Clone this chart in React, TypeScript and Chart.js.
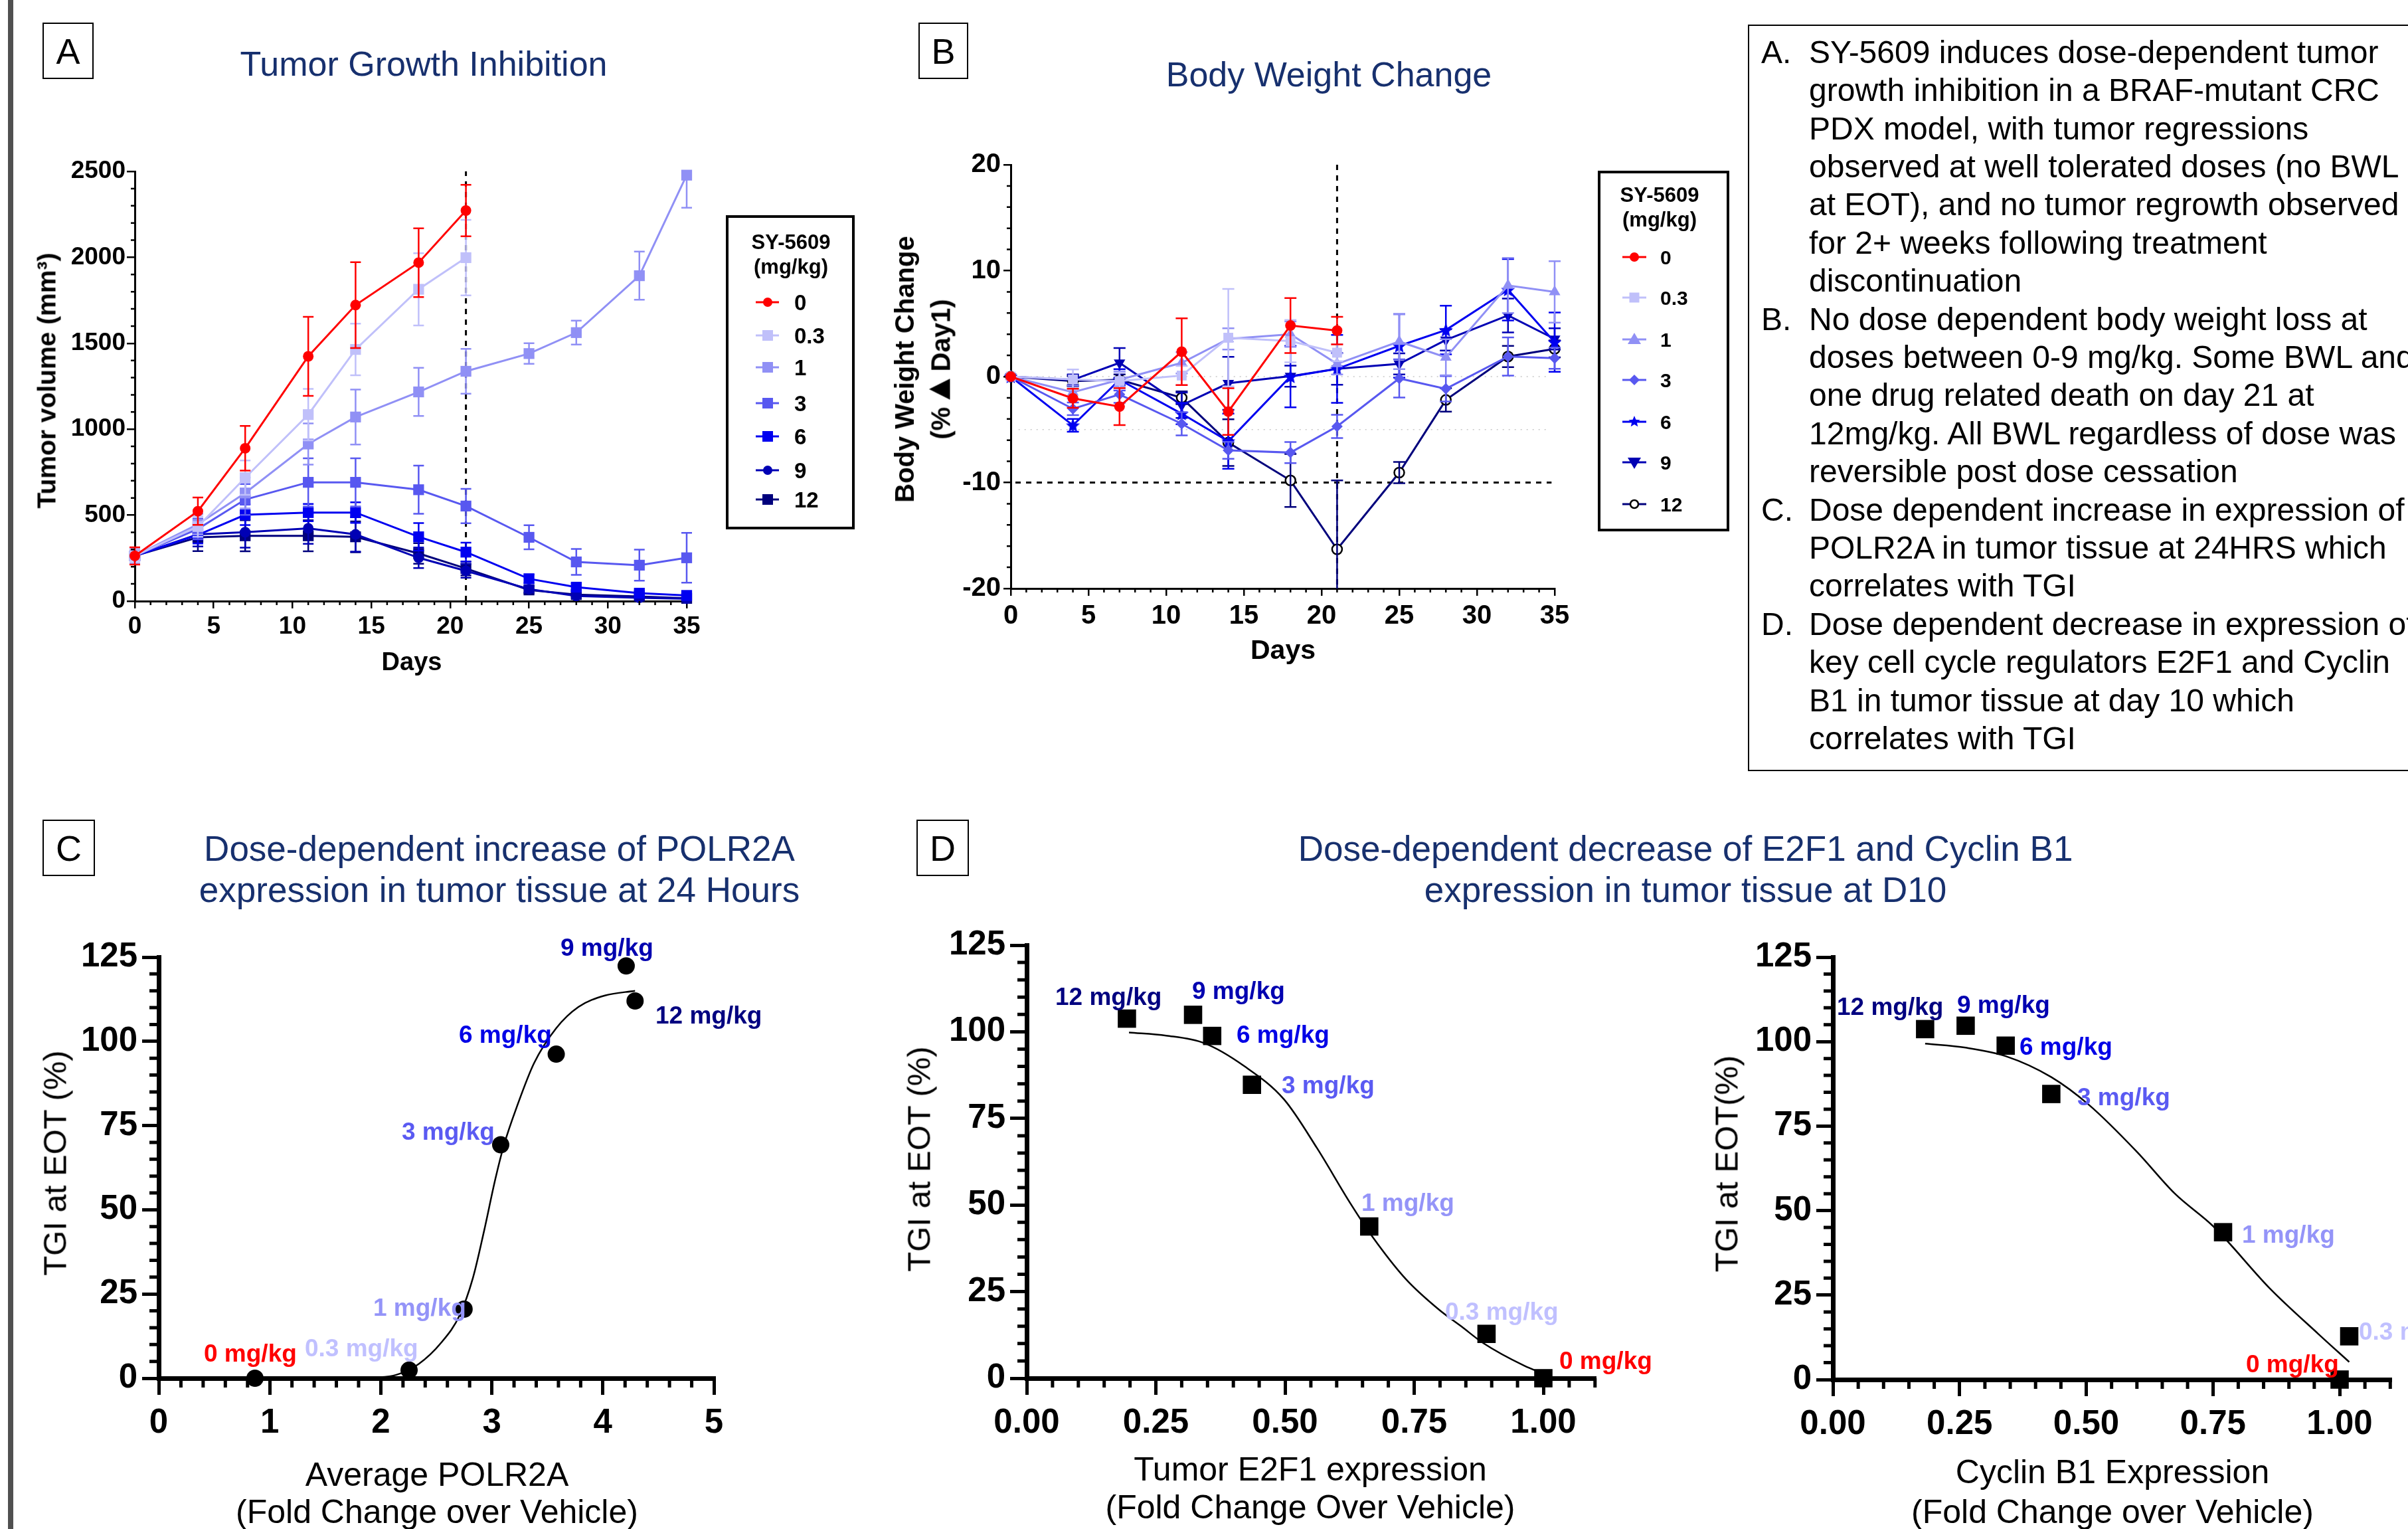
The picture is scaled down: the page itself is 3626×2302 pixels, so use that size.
import React, { useEffect, useRef } from 'react';
import { Chart, registerables } from 'chart.js';

Chart.register(...registerables);

const FONT = '"Liberation Sans", Arial, Helvetica, sans-serif';
const TITLE_COLOR = '#17306e';
Chart.defaults.font.family = FONT;

// ---------------- shared dose groups ----------------
const doseNames = ['0', '0.3', '1', '3', '6', '9', '12'];
const doseColors = ['#ff0000', '#c0c0fa', '#9090f5', '#5858f0', '#0000f0', '#0000b4', '#00007c'];
const labelColors = ['#ff0000', '#c0c0ff', '#9494f8', '#5a5af2', '#0000e6', '#0000b0', '#000080'];

// ---------------- Panel A: tumor volume (mm3) ----------------
const daysA = [0, 4, 7, 11, 14, 18, 21, 25, 28, 32, 35];
const tumor0 = [263, 523, 889, 1424, 1722, 1969, 2272];
const tumor0Err = [50, 80, 130, 230, 250, 200, 150];
const tumor03 = [263, 434, 718, 1085, 1464, 1814, 1998];
const tumor03Err = [40, 60, 100, 150, 150, 210, 220];
const tumor1 = [263, 447, 629, 914, 1071, 1217, 1337, 1440, 1562, 1893, 2478];
const tumor1Err = [40, 60, 90, 120, 160, 140, 130, 60, 70, 140, 190];
const tumor3 = [263, 420, 591, 691, 691, 648, 553, 371, 228, 209, 252];
const tumor3Err = [40, 60, 90, 140, 140, 140, 100, 70, 75, 90, 145];
const tumor6 = [263, 385, 502, 515, 515, 374, 285, 130, 81, 46, 33];
const tumor6Err = [40, 50, 60, 50, 60, 80, 55, 25, 20, 15, 10];
const tumor9 = [263, 388, 401, 423, 388, 252, 176, 70, 30, 19, 14];
const tumor9Err = [40, 70, 90, 90, 100, 60, 40, 20, 10, 8, 5];
const tumor12 = [263, 371, 380, 380, 374, 277, 190, 65, 38, 27, 16];
const tumor12Err = [40, 80, 90, 90, 90, 60, 40, 20, 10, 8, 5];
const ticksDays = [0, 5, 10, 15, 20, 25, 30, 35];
const ticksTumor = [0, 500, 1000, 1500, 2000, 2500];

// ---------------- Panel B: body weight change (%) ----------------
const daysB = [0, 4, 7, 11, 14, 18, 21, 25, 28, 32, 35];
const bw0 = [0, -2.05, -2.83, 2.35, -3.3, 4.82, 4.34];
const bw0Err = [0, 0.9, 1.75, 3.15, 2.2, 2.6, 1.3];
const bw03 = [0, -0.27, -0.42, 0.1, 3.67, 3.35, 2.26];
const bw03Err = [0, 0.95, 0.8, 0.9, 4.6, 2.0, 0.8];
const bw1 = [0, -1.47, -0.3, 1.3, 3.56, 4.0, 1.2, 3.31, 1.82, 8.6, 8.0];
const bw1Err = [0, 0.6, 0.8, 1.0, 1.0, 1.2, 1.0, 2.6, 1.7, 2.6, 2.9];
const bw3 = [0, -3.04, -1.68, -4.45, -6.96, -7.17, -4.7, -0.17, -1.15, 1.9, 1.74];
const bw3Err = [0, 0.6, 0.8, 1.1, 0.8, 1.0, 1.1, 1.8, 1.2, 1.8, 1.0];
const bw6 = [0, -4.6, -0.3, -3.5, -6.1, 0, 0.73, 2.9, 4.4, 8.2, 3.25];
const bw6Err = [0, 0.6, 1.0, 1.0, 2.6, 2.9, 3.2, 3.0, 2.3, 2.9, 2.8];
const bw9 = [0, -0.3, 1.3, -2.7, -0.63, 0.04, 0.73, 1.2, 3.46, 5.77, 3.56];
const bw9Err = [0, 0.5, 1.4, 1.2, 2.5, 1.0, 1.5, 1.0, 1.0, 1.6, 1.0];
const bw12 = [0, -0.42, -0.3, -2.0, -6.23, -9.8, -16.3, -9.06, -2.2, 1.9, 2.62];
const bw12Err = [0, 0.5, 0.5, 0.6, 2.2, 2.5, 6.5, 1.0, 1.1, 1.0, 0.8];
const ticksBW = [-20, -10, 0, 10, 20];

// ---------------- Panel C: POLR2A vs TGI ----------------
const polr2aX = [0.867, 2.255, 2.75, 3.08, 3.58, 4.21, 4.29];
const polr2aTGI = [0, 2.4, 20.5, 69.3, 96.2, 122.4, 112.0];
const polr2aFitX = [0.87, 1.5, 1.99, 2.14, 2.34, 2.54, 2.71, 2.83, 2.93, 3.03, 3.11, 3.23, 3.38, 3.58, 3.78, 4.02, 4.29];
const polr2aFitY = [0, 0, 0.3, 1, 4.2, 10.4, 18.7, 29.8, 43.7, 58.9, 69.3, 81, 93.5, 103.9, 110.2, 113.6, 115];
const ticksPolr = [0, 1, 2, 3, 4, 5];
const ticksTGI = [0, 25, 50, 75, 100, 125];

// ---------------- Panel D: E2F1 / Cyclin B1 vs TGI ----------------
const e2f1X = [1.0, 0.89, 0.663, 0.436, 0.359, 0.322, 0.194];
const e2f1TGI = [0, 12.8, 43.8, 84.7, 98.8, 104.9, 103.8];
const e2f1FitX = [0.198, 0.27, 0.344, 0.421, 0.498, 0.562, 0.626, 0.669, 0.734, 0.798, 0.841, 0.884, 0.963, 1.0];
const e2f1FitY = [99.8, 98.9, 96.7, 90.1, 80.5, 66.4, 50.6, 40.9, 28.6, 19.8, 15.0, 10.1, 3.6, 1.3];
const ccnb1X = [1.0, 1.019, 0.77, 0.431, 0.341, 0.262, 0.182];
const ccnb1TGI = [0, 12.8, 43.6, 84.5, 98.8, 104.7, 103.7];
const ccnb1FitX = [0.182, 0.262, 0.341, 0.431, 0.506, 0.6, 0.675, 0.751, 0.864, 0.958, 1.019];
const ccnb1FitY = [99.4, 98.2, 95.7, 89.5, 81.2, 67.4, 55, 45.3, 26.7, 13.5, 5.2];
const ticksFold = [0, 0.25, 0.5, 0.75, 1.0];

// ---------------- text panel ----------------
const noteLines = [
  ['A.', 'SY-5609 induces dose-dependent tumor'],
  ['', 'growth inhibition in a BRAF-mutant CRC'],
  ['', 'PDX model, with tumor regressions'],
  ['', 'observed at well tolerated doses (no BWL'],
  ['', 'at EOT), and no tumor regrowth observed'],
  ['', 'for 2+ weeks following treatment'],
  ['', 'discontinuation'],
  ['B.', 'No dose dependent body weight loss at'],
  ['', 'doses between 0-9 mg/kg. Some BWL and'],
  ['', 'one drug related death on day 21 at'],
  ['', '12mg/kg. All BWL regardless of dose was'],
  ['', 'reversible post dose cessation'],
  ['C.', 'Dose dependent increase in expression of'],
  ['', 'POLR2A in tumor tissue at 24HRS which'],
  ['', 'correlates with TGI'],
  ['D.', 'Dose dependent decrease in expression of'],
  ['', 'key cell cycle regulators E2F1 and Cyclin'],
  ['', 'B1 in tumor tissue at day 10 which'],
  ['', 'correlates with TGI'],
];

// ================= helpers =================
function drawMarker(ctx: any, kind: string, x: number, y: number, r: number, fill: string, stroke?: any, lw?: number) {
  ctx.save();
  ctx.beginPath();
  if (kind === 'circle' || kind === 'open') ctx.arc(x, y, r, 0, Math.PI * 2);
  else if (kind === 'rect') ctx.rect(x - r, y - r, 2 * r, 2 * r);
  else if (kind === 'triangle') {
    ctx.moveTo(x, y - r); ctx.lineTo(x + r, y + r * 0.7); ctx.lineTo(x - r, y + r * 0.7); ctx.closePath();
  } else if (kind === 'triDown') {
    ctx.moveTo(x, y + r); ctx.lineTo(x + r, y - r * 0.7); ctx.lineTo(x - r, y - r * 0.7); ctx.closePath();
  } else if (kind === 'diamond') {
    ctx.moveTo(x, y - r); ctx.lineTo(x + r, y); ctx.lineTo(x, y + r); ctx.lineTo(x - r, y); ctx.closePath();
  } else if (kind === 'star') {
    for (let k = 0; k < 10; k++) {
      const a = -Math.PI / 2 + (k * Math.PI) / 5;
      const rr = k % 2 === 0 ? r : r * 0.45;
      const px = x + rr * Math.cos(a);
      const py = y + rr * Math.sin(a);
      if (k === 0) ctx.moveTo(px, py); else ctx.lineTo(px, py);
    }
    ctx.closePath();
  }
  ctx.fillStyle = fill;
  ctx.fill();
  if (stroke) { ctx.lineWidth = lw || 2; ctx.strokeStyle = stroke; ctx.stroke(); }
  ctx.restore();
}

function makeStarImage(color: string, size: number) {
  const c = document.createElement('canvas');
  c.width = size; c.height = size;
  const ctx = c.getContext('2d');
  drawMarker(ctx, 'star', size / 2, size / 2 + 1, size / 2 - 1, color);
  return c;
}

function minorList(min: number, max: number, step: number, majors: number[]) {
  const out: number[] = [];
  const n = Math.round((max - min) / step);
  for (let i = 0; i <= n; i++) {
    const v = min + i * step;
    if (!majors.some((m) => Math.abs(m - v) < step / 10)) out.push(v);
  }
  return out;
}

function axisCfg(c: any, kind: string, size: number) {
  return {
    type: 'linear',
    position: kind === 'x' ? 'bottom' : 'left',
    min: c.min, max: c.max, bounds: 'data',
    afterBuildTicks: (axis: any) => { axis.ticks = c.ticks.map((v: number) => ({ value: v })); },
    afterFit: (axis: any) => {
      if (kind === 'x') axis.height = size; else axis.width = size;
      axis.paddingLeft = 0; axis.paddingRight = 0; axis.paddingTop = 0; axis.paddingBottom = 0;
    },
    border: { display: true, color: '#000', width: c.bw },
    grid: { display: true, drawOnChartArea: false, drawTicks: true, tickLength: c.tl, tickWidth: c.tw, tickColor: '#000', color: '#000', lineWidth: c.tw },
    ticks: {
      autoSkip: false, maxRotation: 0, minRotation: 0, padding: c.pad, color: '#000',
      font: { family: FONT, size: c.fs, weight: 'bold' },
      callback: c.fmt || ((v: number) => String(v)),
    },
  };
}

function baseOptions(rect: any, area: any, wy: number, hx: number, xc: any, yc: any) {
  return {
    animation: false, responsive: false, maintainAspectRatio: false, events: [],
    layout: {
      autoPadding: false,
      padding: {
        left: area.left - rect.left - wy,
        top: area.top - rect.top,
        right: rect.left + rect.width - area.right,
        bottom: rect.top + rect.height - area.bottom - hx,
      },
    },
    plugins: { legend: { display: false }, tooltip: { enabled: false }, title: { display: false } },
    scales: { x: axisCfg(xc, 'x', hx), y: axisCfg(yc, 'y', wy) },
  };
}

function errorBarPlugin(cap: number, lw: number) {
  return {
    id: 'errbars',
    afterDatasetDraw(chart: any, args: any) {
      const ds = chart.data.datasets[args.index];
      if (!ds.errors) return;
      const ctx = chart.ctx; const xs = chart.scales.x; const ys = chart.scales.y; const ca = chart.chartArea;
      ctx.save();
      ctx.beginPath();
      ctx.rect(ca.left - 60, ca.top - 1, ca.right - ca.left + 120, ca.bottom - ca.top + 2);
      ctx.clip();
      ctx.strokeStyle = ds.borderColor; ctx.lineWidth = lw;
      ds.data.forEach((p: any, j: number) => {
        const e = ds.errors[j];
        if (!e) return;
        const px = xs.getPixelForValue(p.x);
        const y1 = ys.getPixelForValue(p.y + e);
        const y2 = ys.getPixelForValue(p.y - e);
        ctx.beginPath();
        ctx.moveTo(px, y1); ctx.lineTo(px, y2);
        ctx.moveTo(px - cap, y1); ctx.lineTo(px + cap, y1);
        ctx.moveTo(px - cap, y2); ctx.lineTo(px + cap, y2);
        ctx.stroke();
      });
      ctx.restore();
    },
  };
}

function minorTicksPlugin(xs: number[], ys: number[], len: number, width: number) {
  return {
    id: 'minorTicks',
    afterDraw(chart: any) {
      const ctx = chart.ctx; const ca = chart.chartArea;
      ctx.save(); ctx.strokeStyle = '#000'; ctx.lineWidth = width; ctx.beginPath();
      xs.forEach((v) => { const px = chart.scales.x.getPixelForValue(v); ctx.moveTo(px, ca.bottom); ctx.lineTo(px, ca.bottom + len); });
      ys.forEach((v) => { const py = chart.scales.y.getPixelForValue(v); ctx.moveTo(ca.left, py); ctx.lineTo(ca.left - len, py); });
      ctx.stroke(); ctx.restore();
    },
  };
}

function refLinesPlugin(lines: any[]) {
  return {
    id: 'refLines',
    beforeDatasetsDraw(chart: any) {
      const ctx = chart.ctx; const xs = chart.scales.x; const ys = chart.scales.y;
      lines.forEach((l) => {
        ctx.save(); ctx.strokeStyle = l.color; ctx.lineWidth = l.width; ctx.setLineDash(l.dash);
        ctx.beginPath();
        ctx.moveTo(xs.getPixelForValue(l.x1), ys.getPixelForValue(l.y1));
        ctx.lineTo(xs.getPixelForValue(l.x2), ys.getPixelForValue(l.y2));
        ctx.stroke(); ctx.restore();
      });
    },
  };
}

function legendPlugin(rect: any, spec: any) {
  return {
    id: 'doseLegend',
    afterDraw(chart: any) {
      const ctx = chart.ctx;
      ctx.save();
      ctx.translate(-rect.left, -rect.top);
      const b = spec.box;
      ctx.lineWidth = 4; ctx.strokeStyle = '#000';
      ctx.strokeRect(b[0], b[1], b[2] - b[0], b[3] - b[1]);
      ctx.fillStyle = '#000'; ctx.font = spec.titleFont; ctx.textAlign = 'center'; ctx.textBaseline = 'alphabetic';
      ctx.fillText('SY-5609', spec.titleX, spec.titleY[0]);
      ctx.fillText('(mg/kg)', spec.titleX, spec.titleY[1]);
      ctx.textAlign = 'left'; ctx.font = spec.labelFont;
      spec.entryY.forEach((y: number, i: number) => {
        ctx.strokeStyle = doseColors[i]; ctx.lineWidth = 3;
        ctx.beginPath(); ctx.moveTo(spec.lineX[0], y); ctx.lineTo(spec.lineX[1], y); ctx.stroke();
        const open = spec.kinds[i] === 'open';
        drawMarker(ctx, spec.kinds[i], spec.markerX, y, spec.radii[i], open ? '#ffffff' : doseColors[i], open ? '#000' : null, 2.5);
        ctx.fillStyle = '#000';
        ctx.fillText(doseNames[i], spec.labelX, y + spec.labelDy);
      });
      ctx.restore();
    },
  };
}

function doseLabelPlugin(rect: any, positions: number[][]) {
  return {
    id: 'doseLabels',
    afterDraw(chart: any) {
      const ctx = chart.ctx;
      ctx.save();
      ctx.font = `bold 37px ${FONT}`; ctx.textBaseline = 'alphabetic'; ctx.textAlign = 'left';
      positions.forEach((p, i) => {
        ctx.fillStyle = labelColors[i];
        ctx.fillText(`${doseNames[i]} mg/kg`, p[0] - rect.left, p[1] - rect.top);
      });
      ctx.restore();
    },
  };
}

// ================= chart configs =================
const rectA = { left: 0, top: 220, width: 1320, height: 880 };
const areaA = { left: 203, top: 258, right: 1034, bottom: 905 };
const rectB = { left: 1300, top: 200, width: 1340, height: 900 };
const areaB = { left: 1522, top: 248, right: 2341, bottom: 886 };
const rectC = { left: 0, top: 1380, width: 1300, height: 900 };
const areaC = { left: 239, top: 1441, right: 1075, bottom: 2075 };
const rectD1 = { left: 1320, top: 1380, width: 1180, height: 900 };
const areaD1 = { left: 1546, top: 1423, right: 2401.8, bottom: 2075 };
const rectD2 = { left: 2500, top: 1380, width: 1126, height: 900 };
const areaD2 = { left: 2760, top: 1441, right: 3599.3, bottom: 2077 };

function configA() {
  const series = [tumor0, tumor03, tumor1, tumor3, tumor6, tumor9, tumor12];
  const errs = [tumor0Err, tumor03Err, tumor1Err, tumor3Err, tumor6Err, tumor9Err, tumor12Err];
  const kinds = ['circle', 'rect', 'rect', 'rect', 'rect', 'circle', 'rect'];
  const axX = { min: 0, max: 35, ticks: ticksDays, bw: 3, tl: 11, tw: 2.5, pad: 6, fs: 37 };
  const axY = { min: 0, max: 2500, ticks: ticksTumor, bw: 3, tl: 12, tw: 2.5, pad: 2, fs: 37 };
  return {
    type: 'scatter',
    data: {
      datasets: series.map((s, i) => ({
        data: s.map((v, j) => ({ x: daysA[j], y: v })),
        errors: errs[i], showLine: true, borderColor: doseColors[i], backgroundColor: doseColors[i], borderWidth: 3,
        pointStyle: kinds[i], pointRadius: kinds[i] === 'circle' ? 8 : 11.5,
        pointBackgroundColor: doseColors[i], pointBorderColor: doseColors[i], pointBorderWidth: 0, clip: false,
      })),
    },
    options: baseOptions(rectA, areaA, 140, 80, axX, axY),
    plugins: [
      refLinesPlugin([{ x1: 21, y1: 0, x2: 21, y2: 2500, color: '#000', width: 3, dash: [8, 8] }]),
      errorBarPlugin(8, 2.5),
      minorTicksPlugin(minorList(0, 35, 1, ticksDays), minorList(0, 2500, 100, ticksTumor), 6, 2.5),
      legendPlugin(rectA, {
        box: [1095, 326, 1285, 795], titleX: 1191, titleY: [375, 412],
        titleFont: `bold 31px ${FONT}`, labelFont: `bold 33px ${FONT}`,
        entryY: [455, 505, 553, 607, 657, 708, 752], lineX: [1138, 1173], markerX: 1156, labelX: 1196, labelDy: 12,
        kinds: ['circle', 'rect', 'rect', 'rect', 'rect', 'circle', 'rect'], radii: [7, 8, 8, 8, 8, 7, 8],
      }),
    ],
  };
}

function configB() {
  const series = [bw0, bw03, bw1, bw3, bw6, bw9, bw12];
  const errs = [bw0Err, bw03Err, bw1Err, bw3Err, bw6Err, bw9Err, bw12Err];
  const star = makeStarImage(doseColors[4], 24);
  const styles: any[] = ['circle', 'rect', 'triangle', 'rectRot', star, 'triangle', 'circle'];
  const radii = [8, 10.5, 10, 8.5, 12, 10, 7.5];
  const axX = { min: 0, max: 35, ticks: ticksDays, bw: 3, tl: 11, tw: 2.5, pad: 7, fs: 40 };
  const axY = { min: -20, max: 20, ticks: ticksBW, bw: 3, tl: 11, tw: 2.5, pad: 4, fs: 40 };
  return {
    type: 'scatter',
    data: {
      datasets: series.map((s, i) => ({
        data: s.map((v, j) => ({ x: daysB[j], y: v })),
        errors: errs[i], showLine: true, borderColor: doseColors[i], backgroundColor: doseColors[i], borderWidth: 3,
        pointStyle: styles[i], pointRadius: radii[i], pointRotation: i === 5 ? 180 : 0,
        pointBackgroundColor: i === 6 ? '#ffffff' : doseColors[i],
        pointBorderColor: i === 6 ? '#000000' : doseColors[i],
        pointBorderWidth: i === 6 ? 2.5 : 0, clip: false,
      })),
    },
    options: baseOptions(rectB, areaB, 140, 80, axX, axY),
    plugins: [
      refLinesPlugin([
        { x1: 0.5, y1: 0, x2: 34.7, y2: 0, color: '#c8c8c8', width: 1.5, dash: [2, 7] },
        { x1: 0.5, y1: -5, x2: 34.7, y2: -5, color: '#c8c8c8', width: 1.5, dash: [2, 7] },
        { x1: 0.3, y1: -10, x2: 34.8, y2: -10, color: '#000', width: 3, dash: [8, 8] },
        { x1: 21, y1: 20, x2: 21, y2: -20, color: '#000', width: 3, dash: [8, 8] },
      ]),
      errorBarPlugin(9, 2.5),
      minorTicksPlugin(minorList(0, 35, 1, ticksDays), minorList(-20, 20, 2, ticksBW), 6, 2.5),
      legendPlugin(rectB, {
        box: [2408, 259, 2602, 798], titleX: 2499, titleY: [304, 341],
        titleFont: `bold 31px ${FONT}`, labelFont: `bold 30px ${FONT}`,
        entryY: [387, 448, 511, 572, 635, 696, 759], lineX: [2443, 2479], markerX: 2461, labelX: 2500, labelDy: 11,
        kinds: ['circle', 'rect', 'triangle', 'diamond', 'star', 'triDown', 'open'], radii: [7, 7.5, 10, 8, 9, 10, 6],
      }),
    ],
  };
}

function configFit(rect: any, area: any, xs: number[], ys: number[], fx: number[], fy: number[], kind: string, cfgX: any, labels: number[][], minorX: number[]) {
  const axY = { min: 0, max: 125, ticks: ticksTGI, bw: 7, tl: 25, tw: 5, pad: 7, fs: 51 };
  return {
    type: 'scatter',
    data: {
      datasets: [
        {
          data: xs.map((x, i) => ({ x, y: ys[i] })), showLine: false,
          pointStyle: kind, pointRadius: kind === 'circle' ? 13 : 19.5,
          pointBackgroundColor: '#000', pointBorderColor: '#000', pointBorderWidth: 0, clip: false,
        },
        {
          data: fx.map((x, i) => ({ x, y: fy[i] })), showLine: true, pointRadius: 0,
          borderColor: '#000', borderWidth: 2.5, cubicInterpolationMode: 'monotone', clip: false,
        },
      ],
    },
    options: baseOptions(rect, area, 150, 90, cfgX, axY),
    plugins: [minorTicksPlugin(minorX, minorList(0, 125, 5, ticksTGI), 14, 5), doseLabelPlugin(rect, labels)],
  };
}

function configC() {
  const axX = { min: 0, max: 5, ticks: ticksPolr, bw: 7, tl: 25, tw: 5, pad: 12, fs: 51 };
  return configFit(rectC, areaC, polr2aX, polr2aTGI, polr2aFitX, polr2aFitY, 'circle', axX,
    [[307, 2050], [459, 2042], [562, 1981], [605, 1716], [691, 1570], [844, 1439], [987, 1541]],
    minorList(0, 5, 0.2, ticksPolr));
}

function configD1() {
  const axX = { min: 0, max: 1.1, ticks: ticksFold, bw: 7, tl: 25, tw: 5, pad: 12, fs: 51, fmt: (v: number) => v.toFixed(2) };
  return configFit(rectD1, areaD1, e2f1X, e2f1TGI, e2f1FitX, e2f1FitY, 'rect', axX,
    [[2348, 2061], [2176, 1987], [2050, 1823], [1930, 1646], [1862, 1570], [1795, 1504], [1589, 1513]],
    minorList(0, 1.1, 0.05, ticksFold));
}

function configD2() {
  const axX = { min: 0, max: 1.1, ticks: ticksFold, bw: 7, tl: 25, tw: 5, pad: 12, fs: 51, fmt: (v: number) => v.toFixed(2) };
  return configFit(rectD2, areaD2, ccnb1X, ccnb1TGI, ccnb1FitX, ccnb1FitY, 'rect', axX,
    [[3382, 2066], [3552, 2017], [3376, 1871], [3128, 1664], [3041, 1588], [2947, 1525], [2766, 1528]],
    minorList(0, 1.1, 0.05, ticksFold));
}

// ================= components =================
function ChartCanvas({ rect, make }: any) {
  const ref = useRef<HTMLCanvasElement | null>(null);
  useEffect(() => {
    const chart = new Chart(ref.current as any, make() as any);
    return () => chart.destroy();
  }, []);
  return (
    <canvas
      ref={ref}
      width={rect.width}
      height={rect.height}
      style={{ position: 'absolute', left: rect.left, top: rect.top, width: rect.width, height: rect.height }}
    />
  );
}

function Txt({ x, y, size, weight = 'normal', color = '#000', align = 'left', children }: any) {
  const style: any = {
    position: 'absolute', left: x, top: y - 0.8465 * size, fontSize: size, lineHeight: `${size}px`,
    fontWeight: weight, color, whiteSpace: 'nowrap', fontFamily: FONT,
  };
  if (align === 'center') style.transform = 'translateX(-50%)';
  if (align === 'right') style.transform = 'translateX(-100%)';
  return <div style={style}>{children}</div>;
}

function VTxt({ cx, cy, size, weight = 'normal', children }: any) {
  return (
    <div
      style={{
        position: 'absolute', left: cx, top: cy, fontSize: size, lineHeight: `${size}px`, fontWeight: weight,
        whiteSpace: 'nowrap', fontFamily: FONT, color: '#000', transform: 'translate(-50%, -50%) rotate(-90deg)',
      }}
    >
      {children}
    </div>
  );
}

function LetterBox({ left, top, w, h, letter }: any) {
  return (
    <div
      style={{
        position: 'absolute', left, top, width: w, height: h, border: '2px solid #000', boxSizing: 'border-box',
        display: 'flex', alignItems: 'center', justifyContent: 'center', fontFamily: FONT, fontSize: 54, color: '#000',
      }}
    >
      {letter}
    </div>
  );
}

export default function App() {
  return (
    <div style={{ position: 'fixed', left: 0, top: 0, width: 3626, height: 2302, background: '#fff', overflow: 'hidden', fontFamily: FONT }}>
      <div style={{ position: 'absolute', left: 12, top: 0, width: 8, height: 2302, background: '#505050' }} />

      <ChartCanvas rect={rectA} make={configA} />
      <ChartCanvas rect={rectB} make={configB} />
      <ChartCanvas rect={rectC} make={configC} />
      <ChartCanvas rect={rectD1} make={configD1} />
      <ChartCanvas rect={rectD2} make={configD2} />

      <LetterBox left={64} top={34} w={77} h={85} letter="A" />
      <LetterBox left={1383} top={34} w={75} h={85} letter="B" />
      <LetterBox left={64} top={1234} w={79} h={85} letter="C" />
      <LetterBox left={1380} top={1234} w={79} h={85} letter="D" />

      <Txt x={638} y={114} size={52} color={TITLE_COLOR} align="center">Tumor Growth Inhibition</Txt>
      <Txt x={2001} y={130} size={52} color={TITLE_COLOR} align="center">Body Weight Change</Txt>
      <Txt x={752} y={1296} size={53} color={TITLE_COLOR} align="center">Dose-dependent increase of POLR2A</Txt>
      <Txt x={752} y={1358} size={53} color={TITLE_COLOR} align="center">expression in tumor tissue at 24 Hours</Txt>
      <Txt x={2538} y={1296} size={53} color={TITLE_COLOR} align="center">Dose-dependent decrease of E2F1 and Cyclin B1</Txt>
      <Txt x={2538} y={1358} size={53} color={TITLE_COLOR} align="center">expression in tumor tissue at D10</Txt>

      <Txt x={620} y={1009} size={38} weight="bold" align="center">Days</Txt>
      <VTxt cx={70} cy={573} size={39} weight="bold">Tumor volume (mm³)</VTxt>
      <Txt x={1932} y={993} size={41} weight="bold" align="center">Days</Txt>
      <VTxt cx={1362} cy={556} size={40} weight="bold">Body Weight Change</VTxt>
      <VTxt cx={1414} cy={556} size={40} weight="bold">(%<span style={{ fontSize: 54, lineHeight: '40px' }}>▲</span>Day1)</VTxt>

      <Txt x={658} y={2237} size={50} align="center">Average POLR2A</Txt>
      <Txt x={658} y={2293} size={50} align="center">(Fold Change over Vehicle)</Txt>
      <VTxt cx={83} cy={1751} size={49}>TGI at EOT (%)</VTxt>
      <Txt x={1973} y={2229} size={50} align="center">Tumor E2F1 expression</Txt>
      <Txt x={1973} y={2286} size={50} align="center">(Fold Change Over Vehicle)</Txt>
      <VTxt cx={1384} cy={1745} size={49}>TGI at EOT (%)</VTxt>
      <Txt x={3181} y={2233} size={50} align="center">Cyclin B1 Expression</Txt>
      <Txt x={3181} y={2293} size={50} align="center">(Fold Change over Vehicle)</Txt>
      <VTxt cx={2600} cy={1752} size={49}>TGI at EOT(%)</VTxt>

      <div style={{ position: 'absolute', left: 2632, top: 37, width: 1120, height: 1124, border: '2px solid #000', boxSizing: 'border-box' }} />
      {noteLines.map((l, i) => (
        <React.Fragment key={i}>
          {l[0] ? <Txt x={2652} y={95.5 + i * 57.4} size={48}>{l[0]}</Txt> : null}
          <Txt x={2724} y={95.5 + i * 57.4} size={48}>{l[1]}</Txt>
        </React.Fragment>
      ))}
    </div>
  );
}
